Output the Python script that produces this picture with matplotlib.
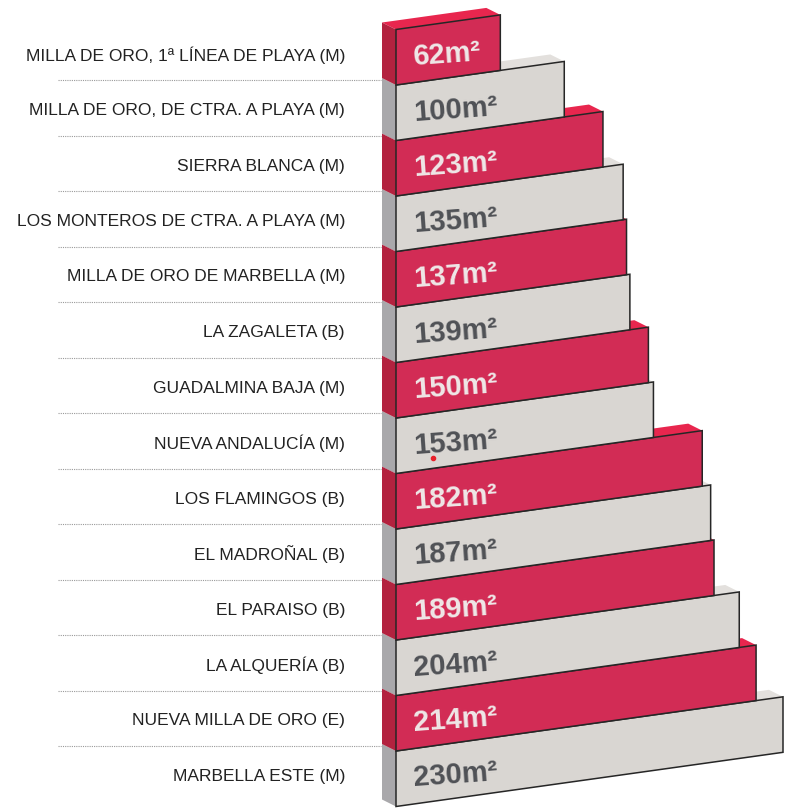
import matplotlib
matplotlib.use("Agg")
import matplotlib.pyplot as plt
from matplotlib.patches import Polygon

labels = [
    "MILLA DE ORO, 1ª LÍNEA DE PLAYA (M)",
    "MILLA DE ORO, DE CTRA. A PLAYA (M)",
    "SIERRA BLANCA (M)",
    "LOS MONTEROS DE CTRA. A PLAYA (M)",
    "MILLA DE ORO DE MARBELLA (M)",
    "LA ZAGALETA (B)",
    "GUADALMINA BAJA (M)",
    "NUEVA ANDALUCÍA (M)",
    "LOS FLAMINGOS (B)",
    "EL MADROÑAL (B)",
    "EL PARAISO (B)",
    "LA ALQUERÍA (B)",
    "NUEVA MILLA DE ORO (E)",
    "MARBELLA ESTE (M)",
]
values = [62, 100, 123, 135, 137, 139, 150, 153, 182, 187, 189, 204, 214, 230]

# front / left side / top
red = ("#D22C55", "#B3223F", "#E8264E")
grey = ("#D9D6D2", "#A9A8AB", "#E3E0DD")

fig = plt.figure(figsize=(8.12, 8.09), dpi=100)
ax = fig.add_axes([0, 0, 1, 1])
ax.set_xlim(0, 812)
ax.set_ylim(809, 0)
ax.axis("off")

x0 = 396
scale = 387 / 230     # px per m2
row_h = 55.5
y_base = 85
slope = 0.14
dx, dy = -14, -7      # depth of the fake 3d

n = len(values)
for i in range(n - 1, -1, -1):
    w = values[i] * scale
    front, side, top = red if i % 2 == 0 else grey
    by = y_base + row_h * i
    bl = (x0, by)
    br = (x0 + w, by - slope * w)
    tr = (br[0], br[1] - row_h)
    tl = (x0, by - row_h)
    z = 10 + (n - i) * 3
    ax.add_patch(Polygon([tl, tr, (tr[0] + dx, tr[1] + dy), (tl[0] + dx, tl[1] + dy)],
                         closed=True, fc=top, ec="none", zorder=z))
    ax.add_patch(Polygon([(tl[0] + dx, tl[1] + dy), tl, bl, (bl[0] + dx, bl[1] + dy)],
                         closed=True, fc=side, ec="none", zorder=z + 1))
    ax.add_patch(Polygon([bl, br, tr, tl], closed=True, fc=front, ec="#262626",
                         lw=1.1, zorder=z + 2, joinstyle="miter"))
    tcol = "#EFE8E8" if i % 2 == 0 else "#4F5156"
    ax.text(x0 + 18, by - 20, f"{values[i]}m²", color=tcol,
            fontsize=21, fontweight="bold", family="Liberation Sans",
            ha="left", va="baseline", rotation=4, rotation_mode="anchor", zorder=z + 3)

    ax.text(345, y_base - 30 + row_h * i, labels[i], ha="right", va="center",
            fontsize=12.5, color="#222222", family="Liberation Sans")
    if i < n - 1:
        ax.plot([58, 381], [y_base - 5 + row_h * i] * 2, ls=(0, (1, 1)),
                color="#9a9a9a", lw=0.8, zorder=1)

# small red dot in the original
ax.plot([433], [458], "o", color="#E8202A", ms=3, zorder=100)

fig.savefig("out.png", dpi=100)
